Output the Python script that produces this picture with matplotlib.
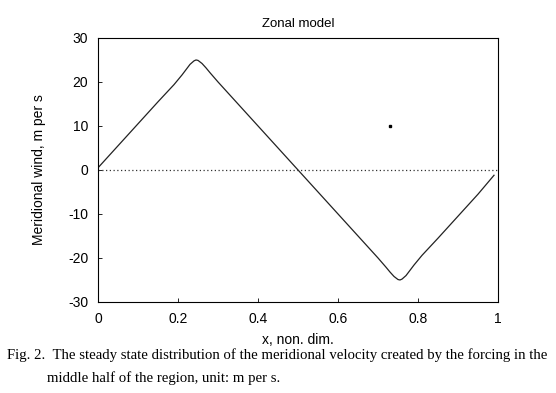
import matplotlib
matplotlib.use("Agg")
import matplotlib.pyplot as plt

# meridional wind
x_pos = [0.00, 0.05, 0.10, 0.15, 0.19, 0.21, 0.22, 0.23, 0.24, 0.245, 0.25,
         0.26, 0.27, 0.28, 0.30, 0.35, 0.40, 0.45, 0.50, 0.55, 0.60, 0.65,
         0.70, 0.72, 0.73, 0.74, 0.75, 0.755, 0.76, 0.77, 0.78, 0.79, 0.81,
         0.85, 0.90, 0.95, 0.99]
v_wind = [0.5, 5.5, 10.5, 15.5, 19.4, 21.6, 22.8, 24.0, 24.8, 25.0, 24.9,
          24.2, 23.2, 22.1, 20.0, 15.0, 10.0, 5.0, 0.0, -5.0, -10.0, -15.0,
          -20.0, -22.1, -23.2, -24.2, -24.9, -25.0, -24.8, -24.0, -22.8, -21.6, -19.4,
          -15.5, -10.5, -5.5, -1.2]
zero_x = [0, 1]
zero_y = [0, 0]
dot_x = [0.73]
dot_y = [10]

xticks = [0, 0.2, 0.4, 0.6, 0.8, 1]
xticklabels = ['0', '0.2', '0.4', '0.6', '0.8', '1']
yticks = [-30, -20, -10, 0, 10, 20, 30]

plt.rcParams['font.family'] = ['Liberation Sans', 'DejaVu Sans']
plt.rcParams['axes.unicode_minus'] = False

fig = plt.figure(figsize=(5.56, 3.93), dpi=100)
ax = fig.add_axes([0.1763, 0.2316, 0.7194, 0.6718])

ax.plot(x_pos, v_wind, color='#222222', linewidth=0.9)
ax.plot(zero_x, zero_y, color='#333333', linestyle=(0, (1, 2)), linewidth=0.9)
ax.plot(dot_x, dot_y, marker='s', color='black', markersize=1.5, linestyle='none')

ax.set_xlim(0, 1)
ax.set_ylim(-30, 30)
ax.set_xticks(xticks)
ax.set_xticklabels(xticklabels)
ax.set_yticks(yticks)
ax.tick_params(direction='in', length=3, width=0.6, labelsize=10, pad=7)
for s in ax.spines.values():
    s.set_linewidth(0.8)

ax.set_title('Zonal model', fontsize=9.5, pad=8)
ax.set_xlabel('x, non. dim.', fontsize=10, labelpad=5)
ax.set_ylabel('Meridional wind, m per s', fontsize=10, labelpad=16)

fig.text(0.012, 0.097, 'Fig. 2.  The steady state distribution of the meridional velocity created by the forcing in the',
         fontsize=10.6, family='Liberation Serif', ha='left', va='center')
fig.text(0.085, 0.038, 'middle half of the region, unit: m per s.',
         fontsize=10.6, family='Liberation Serif', ha='left', va='center')

fig.savefig('out.png', dpi=100)
